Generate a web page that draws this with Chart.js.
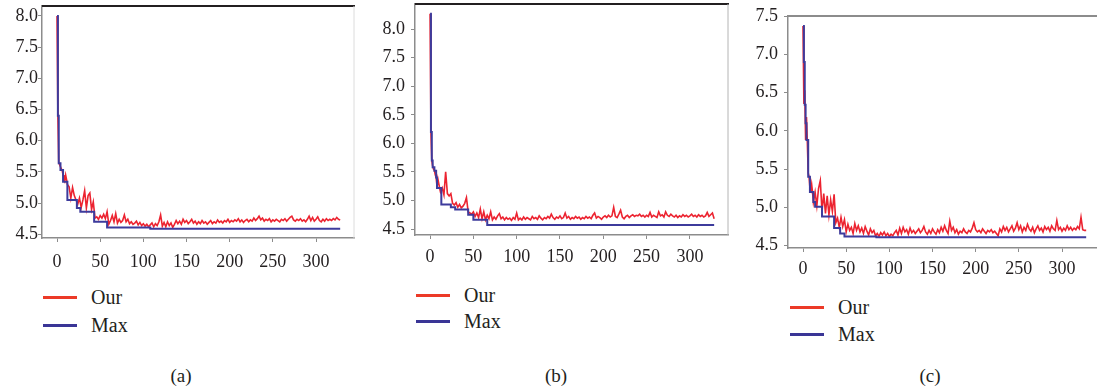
<!DOCTYPE html>
<html>
<head>
<meta charset="utf-8">
<script src="https://cdn.jsdelivr.net/npm/chart.js@4.4.1/dist/chart.umd.min.js"></script>
<style>
  html, body { margin: 0; padding: 0; background: #fff; }
  body { width: 1097px; height: 389px; overflow: hidden; position: relative; font-family: "Liberation Serif", serif; color: #231f20; }
  canvas { position: absolute; }
  .leg { position: absolute; font-size: 20px; line-height: 20px; }
  .leg .row { position: absolute; white-space: nowrap; }
  .leg .sw { position: absolute; height: 2.5px; width: 34px; }
  .leg .tx { position: absolute; top: -10px; }
  .cap { position: absolute; font-size: 19px; transform: translateX(-50%); }
</style>
</head>
<body>
<canvas id="chartA"></canvas>
<canvas id="chartB"></canvas>
<canvas id="chartC"></canvas>
<script>
// iterations: every step up to 11, then every second step
const iterations = [];
for (let i = 0; i < 12; i++) iterations.push(i);
for (let i = 12; i <= 328; i += 2) iterations.push(i);

const xTicks = [0, 50, 100, 150, 200, 250, 300];
const yTicksAB = [4.5, 5.0, 5.5, 6.0, 6.5, 7.0, 7.5, 8.0];
const yTicksC = [4.5, 5.0, 5.5, 6.0, 6.5, 7.0, 7.5];
const seriesNames = ['Our', 'Max'];

// (a)
const ourA = [8.00, 6.40, 5.64, 5.62, 5.58, 5.55, 5.52, 5.45, 5.40, 5.36, 5.45, 5.38,
  5.30, 5.26, 5.08, 5.25, 5.12, 5.05, 4.98, 5.08, 4.93, 5.05, 5.20, 4.92, 5.12, 5.16, 4.90, 5.02,
  4.76, 4.78, 4.74, 4.80, 4.76, 4.82, 4.75, 4.86, 4.66, 4.72, 4.80, 4.70, 4.83, 4.68, 4.74, 4.69,
  4.72, 4.81, 4.70, 4.74, 4.67, 4.70, 4.66, 4.68, 4.71, 4.65, 4.69, 4.64, 4.67, 4.63, 4.66, 4.62,
  4.65, 4.68, 4.62, 4.67, 4.64, 4.70, 4.81, 4.63, 4.69, 4.62, 4.70, 4.64, 4.68, 4.61, 4.66, 4.72,
  4.67, 4.71, 4.66, 4.74, 4.69, 4.72, 4.67, 4.70, 4.74, 4.68, 4.71, 4.66, 4.70, 4.67, 4.72, 4.68,
  4.70, 4.66, 4.69, 4.72, 4.67, 4.70, 4.68, 4.73, 4.69, 4.71, 4.68, 4.72, 4.70, 4.74, 4.69, 4.72,
  4.70, 4.73, 4.71, 4.75, 4.70, 4.73, 4.69, 4.72, 4.74, 4.70, 4.73, 4.71, 4.76, 4.72, 4.75, 4.79,
  4.73, 4.76, 4.71, 4.74, 4.72, 4.75, 4.70, 4.73, 4.71, 4.74, 4.72, 4.70, 4.74, 4.72, 4.75, 4.71,
  4.74, 4.77, 4.79, 4.73, 4.71, 4.74, 4.72, 4.75, 4.71, 4.73, 4.70, 4.74, 4.79, 4.72, 4.77, 4.71,
  4.74, 4.78, 4.72, 4.70, 4.74, 4.71, 4.75, 4.72, 4.74, 4.72, 4.75, 4.73, 4.77, 4.74, 4.73];
const maxAIter = [0, 1, 2, 4, 7, 12, 23, 27, 43, 58, 108, 328];
const maxAVal = [8.00, 6.40, 5.64, 5.53, 5.34, 5.05, 4.92, 4.86, 4.70, 4.61, 4.59, 4.59];

// (b)
const ourB = [8.27, 6.20, 5.70, 5.60, 5.55, 5.53, 5.45, 5.40, 5.25, 5.38, 5.30, 5.22,
  5.15, 5.22, 5.10, 5.50, 5.12, 5.08, 5.12, 4.95, 4.92, 4.96, 4.88, 4.93, 4.87, 4.90, 4.95, 5.05,
  4.80, 4.78, 4.76, 4.80, 4.72, 4.78, 4.70, 4.85, 4.68, 4.80, 4.66, 4.74, 4.68, 4.80, 4.66, 4.71,
  4.67, 4.73, 4.77, 4.68, 4.71, 4.66, 4.70, 4.67, 4.69, 4.65, 4.70, 4.67, 4.78, 4.66, 4.69, 4.66,
  4.71, 4.67, 4.70, 4.68, 4.66, 4.72, 4.68, 4.70, 4.67, 4.73, 4.69, 4.66, 4.70, 4.68, 4.72, 4.69,
  4.76, 4.70, 4.67, 4.71, 4.69, 4.73, 4.68, 4.70, 4.78, 4.69, 4.72, 4.67, 4.70, 4.68, 4.72, 4.69,
  4.71, 4.67, 4.70, 4.68, 4.72, 4.69, 4.71, 4.68, 4.74, 4.78, 4.69, 4.72, 4.70, 4.67, 4.71, 4.73,
  4.70, 4.74, 4.71, 4.73, 4.88, 4.72, 4.70, 4.76, 4.83, 4.71, 4.68, 4.72, 4.74, 4.70, 4.73, 4.75,
  4.72, 4.74, 4.73, 4.76, 4.72, 4.74, 4.71, 4.74, 4.72, 4.79, 4.71, 4.74, 4.72, 4.70, 4.80, 4.73,
  4.75, 4.71, 4.80, 4.74, 4.72, 4.76, 4.73, 4.71, 4.74, 4.70, 4.73, 4.71, 4.75, 4.72, 4.74, 4.71,
  4.73, 4.76, 4.72, 4.74, 4.71, 4.75, 4.72, 4.74, 4.71, 4.73, 4.79, 4.72, 4.75, 4.78, 4.68];
const maxBIter = [0, 1, 2, 3, 5, 7, 8, 13, 24, 29, 44, 50, 66, 328];
const maxBVal = [8.27, 6.20, 5.70, 5.58, 5.52, 5.40, 5.22, 4.93, 4.88, 4.84, 4.75, 4.66, 4.57, 4.57];

// (c)
const ourC = [7.37, 6.35, 6.53, 5.88, 6.18, 5.85, 5.45, 5.40, 5.25, 5.22, 5.30, 5.20,
  5.07, 5.20, 5.02, 5.25, 5.35, 4.95, 5.18, 4.92, 5.15, 4.90, 5.10, 4.95, 5.17, 4.80, 4.86, 4.74,
  4.87, 4.75, 4.84, 4.68, 4.78, 4.70, 4.74, 4.66, 4.79, 4.70, 4.76, 4.68, 4.73, 4.66, 4.75, 4.69,
  4.64, 4.72, 4.67, 4.70, 4.63, 4.66, 4.62, 4.67, 4.64, 4.68, 4.63, 4.66, 4.62, 4.65, 4.63, 4.67,
  4.70, 4.64, 4.73, 4.66, 4.74, 4.68, 4.71, 4.65, 4.73, 4.67, 4.70, 4.66, 4.69, 4.72, 4.67, 4.70,
  4.75, 4.68, 4.65, 4.70, 4.66, 4.72, 4.68, 4.65, 4.71, 4.67, 4.74, 4.69, 4.76, 4.70, 4.66, 4.82,
  4.70, 4.74, 4.67, 4.71, 4.65, 4.69, 4.67, 4.72, 4.68, 4.66, 4.70, 4.68, 4.73, 4.80, 4.71, 4.68,
  4.70, 4.67, 4.72, 4.69, 4.66, 4.70, 4.68, 4.71, 4.67, 4.69, 4.66, 4.63, 4.72, 4.68, 4.75, 4.70,
  4.74, 4.68, 4.72, 4.76, 4.69, 4.73, 4.80, 4.71, 4.76, 4.68, 4.74, 4.70, 4.78, 4.72, 4.69, 4.74,
  4.67, 4.72, 4.76, 4.70, 4.73, 4.68, 4.75, 4.71, 4.74, 4.69, 4.76, 4.72, 4.70, 4.83, 4.71, 4.74,
  4.69, 4.73, 4.70, 4.76, 4.71, 4.74, 4.70, 4.73, 4.71, 4.75, 4.72, 4.87, 4.71, 4.70, 4.70];
const maxCIter = [0, 1, 2, 3, 4, 6, 8, 12, 14, 22, 36, 43, 48, 85, 328];
const maxCVal = [7.37, 6.90, 6.34, 6.10, 5.88, 5.40, 5.20, 5.07, 5.01, 4.88, 4.73, 4.66, 4.62, 4.61, 4.61];

const RED = '#ec2330';
const BLUE = '#3d3b9c';
const TXT = '#231f20';
const FONT = "'Liberation Serif', 'Times New Roman', serif";

const framePlugin = {
  id: 'frame',
  afterDraw(chart, args, opts) {
    const { ctx, chartArea: a } = chart;
    ctx.save();
    ctx.strokeStyle = opts.topColor;
    ctx.lineWidth = opts.topWidth;
    ctx.beginPath();
    ctx.moveTo(a.left, a.top);
    ctx.lineTo(a.right + 1, a.top);
    ctx.stroke();
    if (opts.rightColor) {
      ctx.strokeStyle = opts.rightColor;
      ctx.lineWidth = 1;
      ctx.beginPath();
      ctx.moveTo(a.right, a.top);
      ctx.lineTo(a.right, a.bottom);
      ctx.stroke();
    }
    ctx.restore();
  }
};

function makeChart(p) {
  const cv = document.getElementById(p.id);
  cv.width = p.w; cv.height = p.h;
  cv.style.left = p.left + 'px';
  cv.style.top = p.top + 'px';
  const ourPts = p.our.map((v, i) => ({ x: iterations[i], y: v }));
  const maxPts = p.maxIter.map((x, i) => ({ x: x, y: p.maxVal[i] }));
  const chart = new Chart(cv.getContext('2d'), {
    type: 'line',
    data: {
      datasets: [
        { label: seriesNames[0], data: ourPts, borderColor: RED, borderWidth: 1.6, pointRadius: 0, order: 1, tension: 0 },
        { label: seriesNames[1], data: maxPts, borderColor: BLUE, borderWidth: 2, pointRadius: 0, order: 0, stepped: 'before' }
      ]
    },
    options: {
      responsive: false,
      animation: false,
      events: [],
      layout: { padding: { top: p.padTop, right: p.padRight, left: 0, bottom: 0 } },
      plugins: {
        legend: { display: false },
        tooltip: { enabled: false },
        frame: p.frame
      },
      scales: {
        x: {
          type: 'linear',
          min: -17.4, max: 344,
          afterFit: s => { s.height = p.xH; },
          afterBuildTicks: s => { s.ticks = xTicks.map(v => ({ value: v })); },
          border: { display: true, color: '#8c8c8c', width: 1.5 },
          grid: { drawOnChartArea: false, drawTicks: true, tickLength: 4, color: '#8c8c8c' },
          ticks: { color: TXT, font: { family: FONT, size: 18 }, padding: p.xPad, maxRotation: 0 }
        },
        y: {
          type: 'linear',
          min: p.yMin, max: p.yMax,
          afterFit: s => { s.width = p.yW; },
          afterBuildTicks: s => { s.ticks = p.yTicks.map(v => ({ value: v })); },
          border: { display: true, color: '#8c8c8c', width: 1.5 },
          grid: { drawOnChartArea: false, drawTicks: true, tickLength: 4, color: '#8c8c8c' },
          ticks: { color: TXT, font: { family: FONT, size: 18 }, padding: p.yPad, callback: v => v.toFixed(1) }
        }
      }
    },
    plugins: [framePlugin]
  });
  return chart;
}

const panels = [
  { id: 'chartA', left: 0, top: -20, w: 362, h: 300, padTop: 26, padRight: 8, xH: 42, yW: 42, xPad: 9, yPad: 0,
    yMin: 4.44, yMax: 8.16, yTicks: yTicksAB, our: ourA, maxIter: maxAIter, maxVal: maxAVal,
    frame: { topColor: '#231f20', topWidth: 2, rightColor: '#dcdcdc' },
    legend: { x: 43, y: [297, 325], tx: 91 }, cap: { x: 181, y: 365, t: '(a)' } },
  { id: 'chartB', left: 370, top: -20, w: 366, h: 300, padTop: 24, padRight: 8, xH: 45, yW: 45, xPad: 7, yPad: 6,
    yMin: 4.395, yMax: 8.44, yTicks: yTicksAB, our: ourB, maxIter: maxBIter, maxVal: maxBVal,
    frame: { topColor: '#231f20', topWidth: 2, rightColor: '#b4b4b4' },
    legend: { x: 416, y: [295, 321], tx: 464 }, cap: { x: 556, y: 365, t: '(b)' } },
  { id: 'chartC', left: 740, top: -20, w: 372, h: 310, padTop: 36, padRight: 12, xH: 42, yW: 48, xPad: 6, yPad: 6,
    yMin: 4.47, yMax: 7.5, yTicks: yTicksC, our: ourC, maxIter: maxCIter, maxVal: maxCVal,
    frame: { topColor: '#8c8c8c', topWidth: 2, rightColor: null },
    legend: { x: 790, y: [307, 334], tx: 838 }, cap: { x: 930, y: 365, t: '(c)' } }
];

panels.forEach(p => {
  const chart = makeChart(p);
  const leg = document.createElement('div');
  leg.className = 'leg';
  chart.data.datasets.forEach((ds, i) => {
    const row = document.createElement('div');
    row.className = 'row';
    row.style.left = p.legend.x + 'px';
    row.style.top = p.legend.y[i] + 'px';
    const sw = document.createElement('div');
    sw.className = 'sw';
    sw.style.background = i === 0 ? '#ec3a28' : '#3a3596';
    sw.style.top = '-1px';
    const tx = document.createElement('div');
    tx.className = 'tx';
    tx.style.left = (p.legend.tx - p.legend.x) + 'px';
    tx.textContent = ds.label;
    row.appendChild(sw); row.appendChild(tx);
    leg.appendChild(row);
  });
  document.body.appendChild(leg);
  const cap = document.createElement('div');
  cap.className = 'cap';
  cap.style.left = p.cap.x + 'px';
  cap.style.top = p.cap.y + 'px';
  cap.textContent = p.cap.t;
  document.body.appendChild(cap);
});
</script>
</body>
</html>
